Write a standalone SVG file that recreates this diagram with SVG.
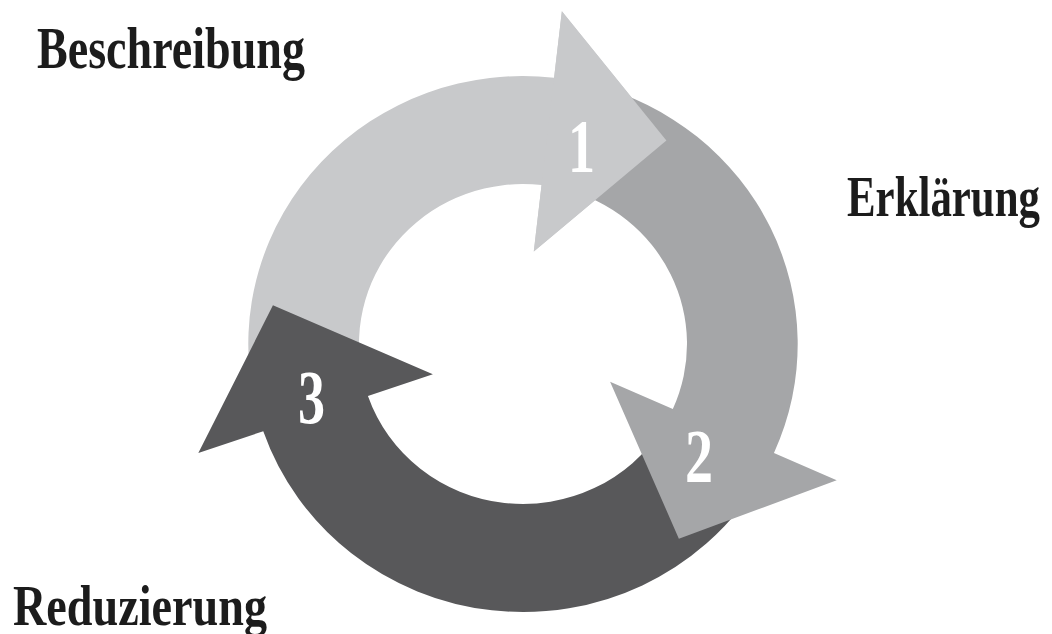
<svg xmlns="http://www.w3.org/2000/svg" xmlns:xlink="http://www.w3.org/1999/xlink" width="1052" height="634" viewBox="0 0 1052 634">
  <style>
    .label { font-family: "Liberation Serif", "DejaVu Serif", serif; font-weight: bold; fill: #1c1c1c; }
    .num { font-family: "Liberation Serif", "DejaVu Serif", serif; font-weight: bold; fill: #ffffff; font-size: 76px; }
    .s1 { fill: #c8c9cb; }
    .s2 { fill: #a5a6a8; }
    .s3 { fill: #58585a; }
  </style>
  <defs>
    <!-- arrowhead of step 1, laid again on top so it covers the tail of step 2 -->
    <path id="head-1" d="M 37.92 -332.85 L 139.90 -203.56 L 10.53 -92.40 Z"/>
  </defs>
  <rect width="1052" height="634" fill="#ffffff"/>

  <!-- cycle ring: centre at (523,344), slightly wider than tall -->
  <g id="cycle" transform="translate(523,344) scale(1.025,1)">
    <g id="step-1">
      <path class="s1" d="M -263.08 51.14 A 268 268 0 0 1 30.34 -266.28 L 37.92 -332.85 L 139.90 -203.56 L 10.53 -92.40 L 18.11 -158.97 A 160 160 0 0 0 -157.06 30.53 Z"/>
    </g>
    <g id="step-3">
      <path class="s3" d="M 227.28 142.02 A 268 268 0 0 1 -253.40 87.25 L -316.75 109.07 L -243.96 -38.64 L -87.93 30.28 L -151.28 52.09 A 160 160 0 0 0 135.69 84.79 Z"/>
    </g>
    <g id="step-2">
      <path class="s2" d="M 67.10 -259.46 A 268 268 0 0 1 244.83 109.01 L 306.04 136.26 L 152.07 194.64 L 84.96 37.83 L 146.17 65.08 A 160 160 0 0 0 40.06 -154.90 Z"/>
    </g>
    <g id="step-1-head">
      <use class="s1" xlink:href="#head-1" href="#head-1"/>
    </g>
  </g>

  <g id="numbers">
    <text class="num" x="568" y="172" textLength="27" lengthAdjust="spacingAndGlyphs">1</text>
    <text class="num" x="685" y="482" textLength="28" lengthAdjust="spacingAndGlyphs">2</text>
    <text class="num" x="298" y="423" textLength="27" lengthAdjust="spacingAndGlyphs">3</text>
  </g>

  <g id="label-beschreibung">
    <text class="label" x="37" y="68" font-size="60" textLength="268" lengthAdjust="spacingAndGlyphs">Beschreibung</text>
  </g>
  <g id="label-erklaerung">
    <text class="label" x="847" y="216" font-size="57" textLength="193" lengthAdjust="spacingAndGlyphs">Erklärung</text>
  </g>
  <g id="label-reduzierung">
    <text class="label" x="13" y="625" font-size="56" textLength="254" lengthAdjust="spacingAndGlyphs">Reduzierung</text>
  </g>
</svg>
